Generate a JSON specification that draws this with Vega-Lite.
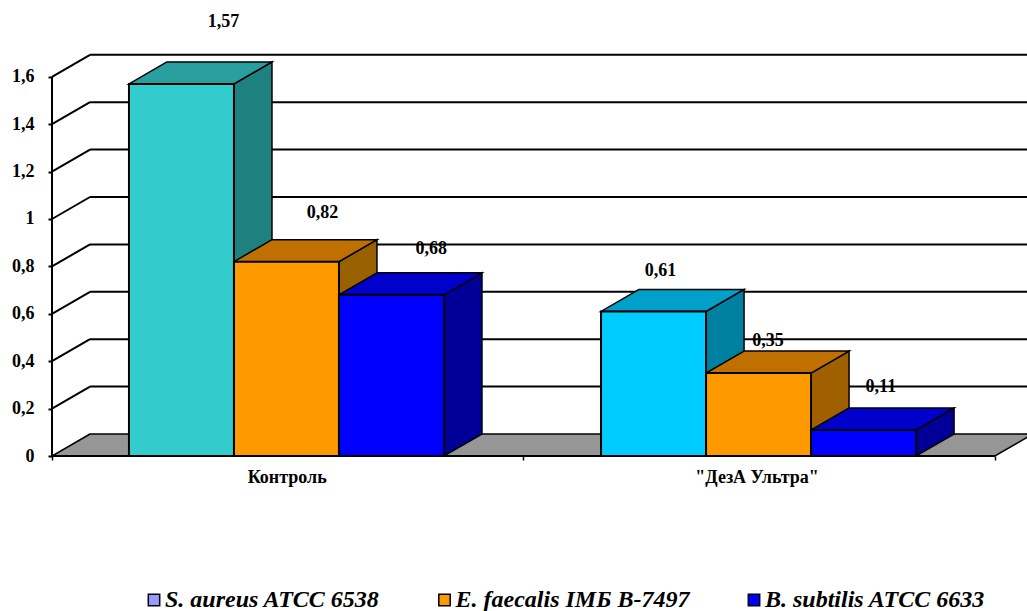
{
"$schema":"https://vega.github.io/schema/vega-lite/v6.json",
"width":975,"height":456,
"autosize":{"type":"none"},
"padding":{"left":52,"top":0,"right":0,"bottom":155},
"background":"white",
"config":{"view":{"stroke":null},"font":"Liberation Serif"},
"datasets":{
"bars":[
{"group":"Контроль","species":"S. aureus ATCC 6538","v":1.57},
{"group":"Контроль","species":"E. faecalis IMБ B-7497","v":0.82},
{"group":"Контроль","species":"B. subtilis ATCC 6633","v":0.68},
{"group":"\"ДезА Ультра\"","species":"S. aureus ATCC 6538","v":0.61},
{"group":"\"ДезА Ультра\"","species":"E. faecalis IMБ B-7497","v":0.35},
{"group":"\"ДезА Ультра\"","species":"B. subtilis ATCC 6633","v":0.11}],
"levels":[{"level":0.2},{"level":0.4},{"level":0.6},{"level":0.8},{"level":1},{"level":1.2},{"level":1.4},{"level":1.6}],
"floor":[{"edge":"front"},{"edge":"back"}],
"species":[{"species":"S. aureus ATCC 6538"},{"species":"E. faecalis IMБ B-7497"},{"species":"B. subtilis ATCC 6633"}]
},
"resolve":{"scale":{"color":"independent"}},
"layer":[
{"data":{"name":"floor"},
 "transform":[
  {"calculate":"datum.edge=='back'?0.0928:0","as":"py"},
  {"calculate":"datum.edge=='back'?0.362:0","as":"xs"},
  {"calculate":"datum.xs+8.98","as":"xe"}],
 "mark":{"type":"area","orient":"horizontal","fill":"#969696","stroke":"black","strokeWidth":1.5},
 "encoding":{
  "y":{"field":"py","type":"quantitative","stack":null,"scale":{"domain":[0,1.924],"nice":false,"zero":false},
   "axis":{"values":[0,0.2,0.4,0.6,0.8,1,1.2,1.4,1.6],"format":".1~f","labelExpr":"replace(datum.label,'.',',')","title":null,"grid":false,"domain":false,"tickColor":"black","tickWidth":2,"tickSize":4,"labelFont":"Liberation Serif","labelFontWeight":"bold","labelFontSize":18,"labelColor":"black","labelPadding":14}},
  "x":{"field":"xs","type":"quantitative","scale":{"domain":[0,9.2857],"nice":false,"zero":false},
   "axis":{"values":[0,2.235,4.49,6.71,8.98],"labelExpr":"datum.value==2.235?'Контроль':datum.value==6.71?'\"ДезА Ультра\"':''","title":null,"grid":false,"domain":false,"tickColor":"black","tickWidth":1.5,"tickSize":4,"tickOpacity":{"condition":{"test":"datum.value==2.235||datum.value==6.71","value":0},"value":1},"labelFont":"Liberation Serif","labelFontWeight":"bold","labelFontSize":18,"labelColor":"black","labelPadding":8,"labelBound":false,"labelFlush":false,"labelOverlap":false}},
  "x2":{"field":"xe"}}},
{"data":{"name":"levels"},
 "transform":[{"calculate":"datum.level+0.0928","as":"back"}],
 "mark":{"type":"rule","color":"black","strokeWidth":2},
 "encoding":{
  "x":{"datum":0.362,"type":"quantitative","scale":{"domain":[0,9.2857],"nice":false,"zero":false}},
  "x2":{"datum":9.2857},
  "y":{"field":"back","type":"quantitative","scale":{"domain":[0,1.924],"nice":false,"zero":false}}}},
{"data":{"name":"levels"},
 "transform":[{"calculate":"datum.level+0.0928","as":"back"}],
 "mark":{"type":"rule","color":"black","strokeWidth":2},
 "encoding":{
  "x":{"datum":0,"type":"quantitative","scale":{"domain":[0,9.2857],"nice":false,"zero":false}},
  "x2":{"datum":0.362},
  "y":{"field":"level","type":"quantitative","scale":{"domain":[0,1.924],"nice":false,"zero":false}},
  "y2":{"field":"back"}}},
{"data":{"name":"bars"},
 "transform":[
  {"calculate":"indexof(['Контроль','\"ДезА Ультра\"'],datum.group)","as":"g"},
  {"calculate":"indexof(['S. aureus ATCC 6538','E. faecalis IMБ B-7497','B. subtilis ATCC 6633'],datum.species)","as":"s"},
  {"calculate":"datum.g+'-'+datum.s","as":"bar"},
  {"calculate":"0.733+datum.g*4.496+datum.s+1","as":"xa"},
  {"calculate":"datum.xa+0.362","as":"xb"},
  {"fold":["xa","xb"],"as":["edge","px"]},
  {"calculate":"datum.edge=='xb'?0.0928:0","as":"bottom"},
  {"calculate":"datum.v+datum.bottom","as":"top"}],
 "mark":{"type":"area","orient":"vertical","stroke":"black","strokeWidth":1.5},
 "encoding":{
  "x":{"field":"px","type":"quantitative","scale":{"domain":[0,9.2857],"nice":false,"zero":false}},
  "y":{"field":"top","type":"quantitative","stack":null,"scale":{"domain":[0,1.924],"nice":false,"zero":false}},
  "y2":{"field":"bottom"},
  "color":{"field":"bar","type":"nominal","legend":null,"scale":{"domain":["0-0","0-1","0-2","1-0","1-1","1-2"],"range":["#1F8080","#996000","#000099","#0080A0","#A06000","#000099"]}}}},
{"data":{"name":"bars"},
 "transform":[
  {"calculate":"indexof(['Контроль','\"ДезА Ультра\"'],datum.group)","as":"g"},
  {"calculate":"indexof(['S. aureus ATCC 6538','E. faecalis IMБ B-7497','B. subtilis ATCC 6633'],datum.species)","as":"s"},
  {"calculate":"datum.g+'-'+datum.s","as":"bar"},
  {"calculate":"datum.v","as":"ya"},
  {"calculate":"datum.v+0.0928","as":"yb"},
  {"fold":["ya","yb"],"as":["edge","py"]},
  {"calculate":"0.733+datum.g*4.496+datum.s+(datum.edge=='yb'?0.362:0)","as":"xs"},
  {"calculate":"datum.xs+1","as":"xe"}],
 "mark":{"type":"area","orient":"horizontal","stroke":"black","strokeWidth":1.5},
 "encoding":{
  "y":{"field":"py","type":"quantitative","stack":null,"scale":{"domain":[0,1.924],"nice":false,"zero":false}},
  "x":{"field":"xs","type":"quantitative","scale":{"domain":[0,9.2857],"nice":false,"zero":false}},
  "x2":{"field":"xe"},
  "color":{"field":"bar","type":"nominal","legend":null,"scale":{"domain":["0-0","0-1","0-2","1-0","1-1","1-2"],"range":["#299F9F","#C07000","#0000CC","#00A0C8","#C07000","#0000CC"]}}}},
{"data":{"name":"bars"},
 "transform":[
  {"calculate":"indexof(['Контроль','\"ДезА Ультра\"'],datum.group)","as":"g"},
  {"calculate":"indexof(['S. aureus ATCC 6538','E. faecalis IMБ B-7497','B. subtilis ATCC 6633'],datum.species)","as":"s"},
  {"calculate":"datum.g+'-'+datum.s","as":"bar"},
  {"calculate":"0.733+datum.g*4.496+datum.s","as":"xs"},
  {"calculate":"datum.xs+1","as":"xe"}],
 "mark":{"type":"rect","stroke":"black","strokeWidth":2},
 "encoding":{
  "x":{"field":"xs","type":"quantitative","scale":{"domain":[0,9.2857],"nice":false,"zero":false}},
  "x2":{"field":"xe"},
  "y":{"field":"v","type":"quantitative","scale":{"domain":[0,1.924],"nice":false,"zero":false}},
  "y2":{"datum":0},
  "color":{"field":"bar","type":"nominal","legend":null,"scale":{"domain":["0-0","0-1","0-2","1-0","1-1","1-2"],"range":["#33CCCC","#FF9900","#0000FF","#00CCFF","#FF9900","#0000FF"]}}}},
{"data":{"values":[{"a":0}]},
 "mark":{"type":"rule","color":"black","strokeWidth":2},
 "encoding":{
  "x":{"datum":0,"type":"quantitative","scale":{"domain":[0,9.2857],"nice":false,"zero":false}},
  "y":{"datum":0,"type":"quantitative","scale":{"domain":[0,1.924],"nice":false,"zero":false}},
  "y2":{"datum":1.6}}},
{"data":{"values":[{"a":0}]},
 "mark":{"type":"rule","color":"black","strokeWidth":2},
 "encoding":{
  "x":{"datum":0,"type":"quantitative","scale":{"domain":[0,9.2857],"nice":false,"zero":false}},
  "x2":{"datum":8.98},
  "y":{"datum":0,"type":"quantitative","scale":{"domain":[0,1.924],"nice":false,"zero":false}}}},
{"data":{"name":"bars"},
 "transform":[
  {"calculate":"indexof(['Контроль','\"ДезА Ультра\"'],datum.group)","as":"g"},
  {"calculate":"indexof(['S. aureus ATCC 6538','E. faecalis IMБ B-7497','B. subtilis ATCC 6633'],datum.species)","as":"s"},
  {"calculate":"datum.g*3+datum.s","as":"i"},
  {"calculate":"0.733+datum.g*4.496+datum.s+0.5+[0.4,0.342,0.38,0.066,0.09,0.165][datum.i]","as":"lx"},
  {"calculate":"datum.v+[0.262,0.207,0.194,0.169,0.135,0.182][datum.i]","as":"ly"},
  {"calculate":"replace(format(datum.v,'.2f'),'.',',')","as":"label"}],
 "mark":{"type":"text","font":"Liberation Serif","fontWeight":"bold","fontSize":18,"color":"black","baseline":"middle","align":"center"},
 "encoding":{
  "x":{"field":"lx","type":"quantitative","scale":{"domain":[0,9.2857],"nice":false,"zero":false}},
  "y":{"field":"ly","type":"quantitative","scale":{"domain":[0,1.924],"nice":false,"zero":false}},
  "text":{"field":"label"}}},
{"data":{"name":"species"},
 "mark":{"type":"square","size":0,"filled":true},
 "encoding":{
  "x":{"datum":0,"type":"quantitative","scale":{"domain":[0,9.2857],"nice":false,"zero":false}},
  "y":{"datum":0,"type":"quantitative","scale":{"domain":[0,1.924],"nice":false,"zero":false}},
  "color":{"field":"species","type":"nominal",
   "scale":{"domain":["S. aureus ATCC 6538","E. faecalis IMБ B-7497","B. subtilis ATCC 6633"],"range":["#9999FF","#FF9900","#0000FF"]},
   "legend":{"orient":"none","legendX":90,"legendY":588,"direction":"horizontal","columns":3,"title":null,"symbolType":"square","symbolSize":130,"symbolStrokeColor":"black","symbolStrokeWidth":1.5,"symbolOpacity":1,"labelFont":"Liberation Serif","labelFontStyle":"italic","labelFontWeight":"bold","labelFontSize":24,"labelColor":"black","labelLimit":0,"labelOffset":-1,"columnPadding":52.5}}}}
]
}
